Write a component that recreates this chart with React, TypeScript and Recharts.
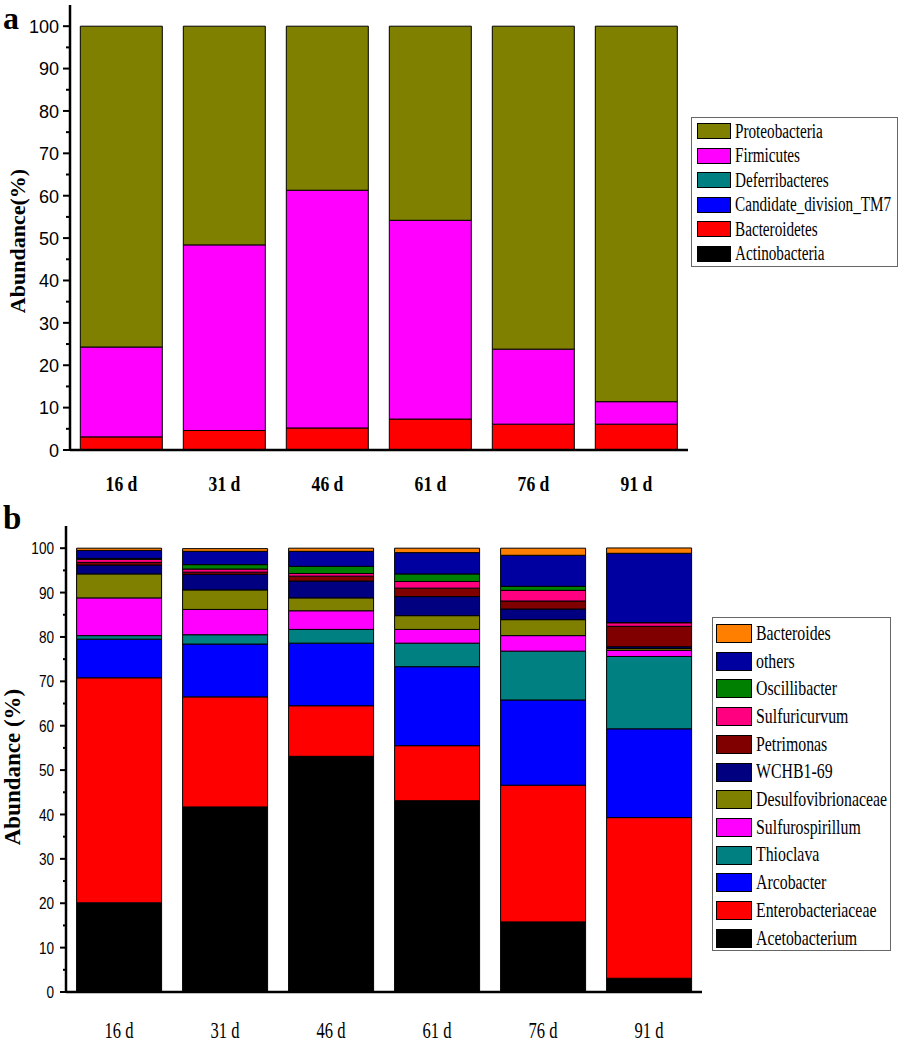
import { BarChart, Bar, XAxis, YAxis, Legend } from 'recharts';

const days = ['16 d', '31 d', '46 d', '61 d', '76 d', '91 d'];

// panel a, phylum level (%)
const actinobacteria = [0, 0, 0, 0, 0, 0];
const bacteroidetes = [3.1, 4.6, 5.2, 7.3, 6.1, 6.1];
const candidateTM7 = [0, 0, 0, 0, 0, 0];
const deferribacteres = [0, 0, 0, 0, 0, 0];
const firmicutes = [21.2, 43.8, 56.1, 46.9, 17.7, 5.3];
const proteobacteria = [75.7, 51.6, 38.7, 45.8, 76.2, 88.6];

// panel b, genus level (%)
const acetobacterium = [20.1, 41.7, 53.1, 43.1, 15.8, 3.1];
const enterobacteriaceae = [50.7, 24.8, 11.4, 12.4, 30.8, 36.2];
const arcobacter = [8.7, 11.9, 14.1, 17.8, 19.2, 20.0];
const thioclava = [0.8, 2.1, 3.1, 5.3, 11.0, 16.3];
const sulfurospirillum = [8.5, 5.7, 4.2, 3.1, 3.5, 1.4];
const desulfovibrionaceae = [5.4, 4.4, 2.9, 3.1, 3.6, 0.4];
const wchb169 = [2.0, 3.5, 3.8, 4.3, 2.4, 0.4];
const petrimonas = [0.6, 0.5, 1.1, 1.9, 1.8, 4.6];
const sulfuricurvum = [0.7, 0.7, 0.6, 1.5, 2.4, 0.8];
const oscillibacter = [0.2, 1.0, 1.6, 1.7, 0.9, 0.05];
const others = [1.8, 3.0, 3.4, 4.8, 7.0, 15.6];
const bacteroides = [0.5, 0.6, 0.7, 1.0, 1.6, 1.2];

const yTicks = [0, 5, 10, 15, 20, 25, 30, 35, 40, 45, 50, 55, 60, 65, 70, 75, 80, 85, 90, 95, 100];

// bottom -> top stacking order
const seriesA = [
  { key: 'Actinobacteria', values: actinobacteria, color: '#000000' },
  { key: 'Bacteroidetes', values: bacteroidetes, color: '#FF0000' },
  { key: 'Candidate_division_TM7', values: candidateTM7, color: '#0000FF' },
  { key: 'Deferribacteres', values: deferribacteres, color: '#008080' },
  { key: 'Firmicutes', values: firmicutes, color: '#FF00FF' },
  { key: 'Proteobacteria', values: proteobacteria, color: '#808000' },
];

const seriesB = [
  { key: 'Acetobacterium', values: acetobacterium, color: '#000000' },
  { key: 'Enterobacteriaceae', values: enterobacteriaceae, color: '#FF0000' },
  { key: 'Arcobacter', values: arcobacter, color: '#0000FF' },
  { key: 'Thioclava', values: thioclava, color: '#008080' },
  { key: 'Sulfurospirillum', values: sulfurospirillum, color: '#FF00FF' },
  { key: 'Desulfovibrionaceae', values: desulfovibrionaceae, color: '#808000' },
  { key: 'WCHB1-69', values: wchb169, color: '#000080' },
  { key: 'Petrimonas', values: petrimonas, color: '#800000' },
  { key: 'Sulfuricurvum', values: sulfuricurvum, color: '#FF0080' },
  { key: 'Oscillibacter', values: oscillibacter, color: '#008000' },
  { key: 'others', values: others, color: '#0000A0' },
  { key: 'Bacteroides', values: bacteroides, color: '#FF8000' },
];

const dataA = days.map((d, i) => {
  const row: Record<string, any> = { day: d };
  seriesA.forEach((s) => (row[s.key] = s.values[i]));
  return row;
});

const dataB = days.map((d, i) => {
  const row: Record<string, any> = { day: d };
  seriesB.forEach((s) => (row[s.key] = s.values[i]));
  return row;
});

const SERIF = '"Liberation Serif", "Times New Roman", serif';
const SANS = '"Liberation Sans", Arial, sans-serif';

function makeYTick(opts: { major: number; minor: number; gap: number; size: number; sx: number }) {
  return (props: any) => {
    const { x, y, payload } = props;
    const isMajor = payload.value % 10 === 0;
    return (
      <g>
        <line x1={x} x2={x - (isMajor ? opts.major : opts.minor)} y1={y} y2={y} stroke="#000" strokeWidth={2} />
        {isMajor && (
          <text
            transform={`translate(${x - opts.gap},${y + opts.size * 0.36}) scale(${opts.sx},1)`}
            textAnchor="end"
            fontFamily={SANS}
            fontSize={opts.size}
            fill="#000"
          >
            {payload.value}
          </text>
        )}
      </g>
    );
  };
}

function makeXTick(opts: { dy: number; size: number; sx: number; bold: boolean }) {
  return (props: any) => {
    const { x, y, payload } = props;
    return (
      <text
        transform={`translate(${x},${y + opts.dy}) scale(${opts.sx},1)`}
        textAnchor="middle"
        fontFamily={SERIF}
        fontWeight={opts.bold ? 'bold' : 'normal'}
        fontSize={opts.size}
        fill="#000"
      >
        {payload.value}
      </text>
    );
  };
}

function makeLegend(
  series: { key: string; color: string }[],
  opts: { pad: number; first: number; step: number; swW: number; swH: number; textX: number; size: number; sx: number }
) {
  const items = [...series].reverse();
  return () => (
    <div
      style={{
        position: 'relative',
        width: '100%',
        height: '100%',
        boxSizing: 'border-box',
        border: '1.5px solid #666',
        background: '#fff',
      }}
    >
      {items.map((s, i) => (
        <div key={s.key}>
          <div
            style={{
              position: 'absolute',
              left: opts.pad,
              top: opts.first + i * opts.step - opts.swH / 2,
              width: opts.swW,
              height: opts.swH,
              boxSizing: 'border-box',
              background: s.color,
              border: '1.5px solid #000',
            }}
          />
          <div
            style={{
              position: 'absolute',
              left: opts.textX,
              top: opts.first + i * opts.step - opts.size * 0.62,
              fontFamily: SERIF,
              fontSize: opts.size,
              lineHeight: `${opts.size * 1.2}px`,
              whiteSpace: 'nowrap',
              transform: `scaleX(${opts.sx})`,
              transformOrigin: 'left center',
              color: '#000',
            }}
          >
            {s.key}
          </div>
        </div>
      ))}
    </div>
  );
}

function PanelA() {
  return (
    <BarChart
      width={898}
      height={500}
      data={dataA}
      margin={{ top: 5, right: 210, bottom: 0, left: 0 }}
      barCategoryGap="10%"
    >
      <XAxis
        dataKey="day"
        height={50}
        axisLine={{ stroke: '#000', strokeWidth: 2.5 }}
        tickLine={false}
        tickSize={0}
        tickMargin={0}
        tick={makeXTick({ dy: 41, size: 22, sx: 0.8, bold: true })}
      />
      <YAxis
        width={70}
        domain={[0, 105]}
        ticks={yTicks}
        interval={0}
        allowDataOverflow
        axisLine={{ stroke: '#000', strokeWidth: 2.5 }}
        tickLine={false}
        tickSize={0}
        tickMargin={0}
        tick={makeYTick({ major: 7, minor: 4, gap: 11, size: 19, sx: 0.95 })}
        label={() => (
          <text
            transform="translate(25,241) rotate(-90)"
            textAnchor="middle"
            fontFamily={SERIF}
            fontWeight="bold"
            fontSize={22}
            fill="#000"
          >
            Abundance(%)
          </text>
        )}
      />
      <Legend
        layout="horizontal"
        verticalAlign="middle"
        align="center"
        wrapperStyle={{ left: 691, top: 117, width: 207, height: 150 }}
        content={makeLegend(seriesA, { pad: 5, first: 13, step: 24.5, swW: 34, swH: 16, textX: 43, size: 20, sx: 0.76 })}
      />
      {seriesA.map((s) => (
        <Bar
          key={s.key}
          dataKey={s.key}
          name={s.key}
          stackId="a"
          fill={s.color}
          stroke="#000"
          strokeWidth={1}
          isAnimationActive={false}
        />
      ))}
    </BarChart>
  );
}

function PanelB() {
  return (
    <BarChart
      width={898}
      height={547}
      data={dataB}
      margin={{ top: 26, right: 196, bottom: 0, left: 0 }}
      barCategoryGap="10%"
    >
      <XAxis
        dataKey="day"
        height={55}
        axisLine={{ stroke: '#000', strokeWidth: 2.5 }}
        tickLine={false}
        tickSize={0}
        tickMargin={0}
        tick={makeXTick({ dy: 46, size: 23, sx: 0.72, bold: false })}
      />
      <YAxis
        width={66}
        domain={[0, 105]}
        ticks={yTicks}
        interval={0}
        allowDataOverflow
        axisLine={{ stroke: '#000', strokeWidth: 2.5 }}
        tickLine={false}
        tickSize={0}
        tickMargin={0}
        tick={makeYTick({ major: 6, minor: 3, gap: 12, size: 17, sx: 0.8 })}
        label={() => (
          <text
            transform="translate(20,267) rotate(-90)"
            textAnchor="middle"
            fontFamily={SERIF}
            fontWeight="bold"
            fontSize={23}
            fill="#000"
          >
            Abundance (%)
          </text>
        )}
      />
      <Legend
        layout="horizontal"
        verticalAlign="middle"
        align="center"
        wrapperStyle={{ left: 712, top: 117, width: 179, height: 334 }}
        content={makeLegend(seriesB, { pad: 3, first: 15.5, step: 27.7, swW: 36, swH: 19, textX: 43, size: 22, sx: 0.72 })}
      />
      {seriesB.map((s) => (
        <Bar
          key={s.key}
          dataKey={s.key}
          name={s.key}
          stackId="b"
          fill={s.color}
          stroke="#000"
          strokeWidth={1}
          isAnimationActive={false}
        />
      ))}
    </BarChart>
  );
}

export default function App() {
  return (
    <div style={{ position: 'absolute', left: 0, top: 0, width: 898, height: 1047, background: '#fff', overflow: 'hidden' }}>
      <div style={{ position: 'absolute', left: 0, top: 0 }}>
        <PanelA />
      </div>
      <div style={{ position: 'absolute', left: 0, top: 500 }}>
        <PanelB />
      </div>
      <svg width={40} height={36} style={{ position: 'absolute', left: 0, top: 0 }}>
        <text x={3} y={28.5} fontFamily={SERIF} fontWeight="bold" fontSize={32} fill="#000">
          a
        </text>
      </svg>
      <svg width={40} height={40} style={{ position: 'absolute', left: 0, top: 500 }}>
        <text x={3} y={29} fontFamily={SERIF} fontWeight="bold" fontSize={33} fill="#000">
          b
        </text>
      </svg>
    </div>
  );
}
